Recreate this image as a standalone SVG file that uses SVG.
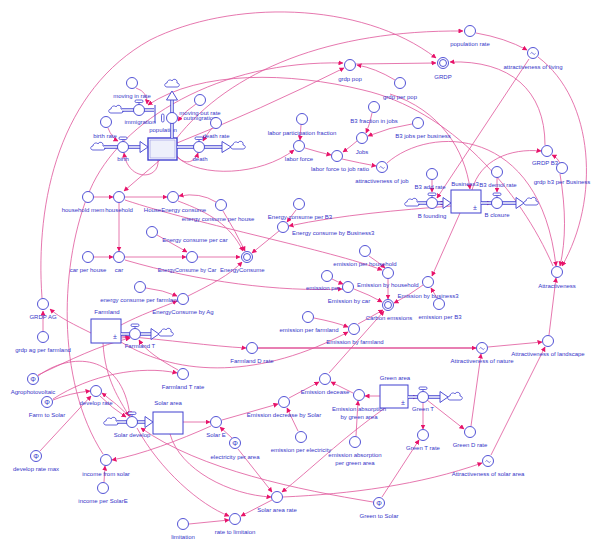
<svg xmlns="http://www.w3.org/2000/svg" width="600" height="551" viewBox="0 0 600 551">
<defs>
<marker id="ah" viewBox="0 0 10 10" refX="9" refY="5" markerWidth="5" markerHeight="5" markerUnits="userSpaceOnUse" orient="auto"><path d="M0,0 L10,5 L0,10 z" fill="#e8146a"/></marker>
<path id="cloudshape" d="M-5,3 C-8,3 -8,-1 -5,-1 C-5,-4 -1,-5 0,-3 C1,-6 6,-5 5,-1 C8,-1 8,3 5,3 Z"/>
</defs>
<style>
text{font-family:"Liberation Sans",Arial,sans-serif;font-size:6px;fill:#3535c8;text-anchor:middle}
.c{fill:#fff;stroke:#4040d0;stroke-width:0.9}
.k path,.k{fill:none;stroke:#e0559a;stroke-width:0.8}
.k path{marker-end:url(#ah)}
.p{fill:none;stroke:#4040d0;stroke-width:3.4}
.pi{fill:none;stroke:#fff;stroke-width:1.5}
.tri{fill:#fff;stroke:#4040d0;stroke-width:0.9}
.cl{fill:#fff;stroke:#4040d0;stroke-width:0.8}
.st{fill:#fff;stroke:#4040d0;stroke-width:1}
.h{fill:#fff;stroke:#4040d0;stroke-width:0.8}
.tl{fill:none;stroke:#4040d0;stroke-width:0.7}
.phi{font-size:7px}
</style>
<rect width="600" height="551" fill="#fff"/>

<g id="connectors" class="k">
<path d="M136,88 Q148,92 147,104"/>
<path d="M108,128 Q112,138 118,141"/>
<path d="M158,160 C160,180 128,182 124,153"/>
<path d="M177,156 C185,166 195,162 198,153"/>
<path d="M212,128 Q207,134 203,141"/>
<path d="M196,104 Q186,110 178,121"/>
<path d="M160,160 L124,191"/>
<path d="M177,143 Q260,110 344,68"/>
<path d="M176,139 C230,70 330,30 463,31"/>
<path d="M42,298 C35,200 60,90 150,40 C230,0 360,0 436,58"/>
<path d="M103,454 C55,380 60,260 90,190 C120,120 220,60 343,63"/>
<path d="M553,266 C520,190 450,110 363,90 C290,72 200,70 148,105"/>
<path d="M395,80 Q375,68 357,65"/>
<path d="M356,64 L436,63"/>
<path d="M476,33 Q505,38 527,50"/>
<path d="M545,145 C545,90 510,60 450,62"/>
<path d="M538,57 C595,100 600,200 562,266"/>
<path d="M529,59 L437,198"/>
<path d="M560,163 Q558,158 552,155"/>
<path d="M560,174 C566,210 566,240 560,266"/>
<path d="M472,190 C480,160 510,148 541,151"/>
<path d="M387,163 C430,125 540,125 556,266"/>
<path d="M342,159 Q360,163 376,166"/>
<path d="M357,141 Q350,147 343,152"/>
<path d="M305,148 Q318,152 331,155"/>
<path d="M301,125 L300,140"/>
<path d="M372,113 Q370,124 366,133"/>
<path d="M412,124 Q390,127 368,136"/>
<path d="M177,157 C200,178 260,176 294,150"/>
<path d="M432,180 L432,192"/>
<path d="M497,178 L497,192"/>
<path d="M481,203 L491,203"/>
<path d="M451,203 L438,203"/>
<path d="M460,213 L432,276"/>
<path d="M451,206 C400,210 340,215 289,226"/>
<path d="M390,94 C440,110 465,150 470,189"/>
<path d="M94,197 L113,197"/>
<path d="M125,197 L167,197"/>
<path d="M216,202 Q200,192 179,196"/>
<path d="M119,203 L119,251"/>
<path d="M94,257 L113,257"/>
<path d="M125,257 L186,257"/>
<path d="M157,235 L187,252"/>
<path d="M198,257 L240,257"/>
<path d="M178,201 C210,213 230,225 243,251"/>
<path d="M223,211 Q236,232 245,251"/>
<path d="M279,231 L252,253"/>
<path d="M296,210 L287,222"/>
<path d="M188,296 C210,285 230,275 242,262"/>
<path d="M146,288 Q163,290 177,296"/>
<path d="M125,200 C200,225 330,250 382,270"/>
<path d="M369,256 Q378,262 385,268"/>
<path d="M125,260 C200,282 280,292 342,289"/>
<path d="M332,279 Q338,282 343,284"/>
<path d="M354,289 Q370,295 382,302"/>
<path d="M388,279 L388,299"/>
<path d="M423,285 Q408,296 394,303"/>
<path d="M437,298 L431,288"/>
<path d="M314,318 Q335,322 348,327"/>
<path d="M358,324 L383,310"/>
<path d="M121,342 C180,378 262,378 348,332"/>
<path d="M329,373 L384,311"/>
<path d="M121,336 C170,340 210,346 246,348"/>
<path d="M258,348 L476,348" style="stroke-width:1.3"/>
<path d="M91,333 C75,325 60,318 50,309"/>
<path d="M43,331 L43,311"/>
<path d="M121,325 C140,315 160,308 177,301"/>
<path d="M178,370 C160,360 145,350 139,340"/>
<path d="M121,338 L130,337"/>
<path d="M38,375 C70,360 100,345 130,338"/>
<path d="M38,376 C70,352 122,352 130,416"/>
<path d="M53,400 Q70,393 90,391"/>
<path d="M53,399 C90,375 140,365 177,373"/>
<path d="M40,451 L91,396"/>
<path d="M100,396 Q112,408 126,417"/>
<path d="M130,417 Q117,404 102,393"/>
<path d="M103,343 C105,380 120,400 129,416"/>
<path d="M183,422 L210,422"/>
<path d="M211,426 C180,440 140,455 112,460"/>
<path d="M104,482 L105,466"/>
<path d="M232,438 L220,427"/>
<path d="M222,420 L278,404"/>
<path d="M298,431 L287,408"/>
<path d="M289,398 L319,382"/>
<path d="M353,393 L331,382"/>
<path d="M380,396 L365,396"/>
<path d="M356,436 L358,401"/>
<path d="M385,408 C340,440 310,470 282,492"/>
<path d="M238,449 L272,492"/>
<path d="M272,500 L241,516"/>
<path d="M189,524 L229,520"/>
<path d="M283,497 C350,494 420,485 482,463"/>
<path d="M373,502 C300,490 200,470 141,428"/>
<path d="M170,434 C180,470 230,495 271,497"/>
<path d="M137,428 C160,470 200,505 229,516"/>
<path d="M382,497 L419,440"/>
<path d="M423,403 L423,429"/>
<path d="M427,400 L464,429"/>
<path d="M471,426 L481,354"/>
<path d="M488,347 L542,342"/>
<path d="M491,455 L545,347"/>
<path d="M549,335 L556,278"/>
<path d="M408,397 L417,397"/>
</g>

<g id="population">
<rect class="st" x="148" y="138" width="29" height="22" style="stroke-width:1.4"/>
<rect x="150" y="140" width="25" height="18" fill="#eef0fb" stroke="#9090e0" stroke-width="0.6"/>
<text x="163" y="132">population</text>
</g>
<g id="f-birth">
<use href="#cloudshape" x="98" y="147" class="cl"/>
<path class="p" d="M104,147 H141"/><path class="pi" d="M104,147 H141"/>
<polygon class="tri" points="140,141.5 148,147 140,152.5"/>
<line x1="123" y1="139.5" x2="123" y2="141.5" stroke="#4040d0" stroke-width="0.8"/>
<rect class="h" x="119" y="137" width="8" height="2.5" rx="1.2"/>
<circle class="c" cx="123" cy="147" r="5.5"/>
<text x="123" y="161">birth</text>
</g>
<g id="f-immigration">
<use href="#cloudshape" x="116" y="110" class="cl"/>
<path class="p" d="M122,110 H154"/><path class="pi" d="M122,110 H154"/>
<line x1="155" y1="105" x2="155" y2="123" stroke="#4040d0" stroke-width="1"/>
<line x1="139" y1="102.5" x2="139" y2="104.5" stroke="#4040d0" stroke-width="0.8"/>
<rect class="h" x="135" y="100" width="8" height="2.5" rx="1.2"/>
<circle class="c" cx="139" cy="110" r="5.5"/>
<text x="140" y="124">immigration</text>
</g>
<g id="f-outmigration">
<use href="#cloudshape" x="172" y="84" class="cl"/>
<path class="p" d="M172,138 V100"/><path class="pi" d="M172,138 V100"/>
<polygon class="tri" points="166.5,100 172,91 177.5,100"/>
<rect class="h" x="161.5" y="114" width="2.5" height="8" rx="1.2"/>
<circle class="c" cx="172" cy="118" r="5.5"/>
<text x="200" y="115">moving out rate</text>
<text x="200" y="120">outmigration</text>
</g>
<g id="f-death">
<path class="p" d="M177,147 H223"/><path class="pi" d="M177,147 H223"/>
<polygon class="tri" points="222,141.5 231,147 222,152.5"/>
<use href="#cloudshape" x="238" y="146" class="cl"/>
<line x1="199" y1="139.5" x2="199" y2="141.5" stroke="#4040d0" stroke-width="0.8"/>
<rect class="h" x="195" y="137" width="8" height="2.5" rx="1.2"/>
<circle class="c" cx="199" cy="147" r="5.5"/>
<text x="200" y="161">death</text>
</g>
<g id="n-moving-in-rate"><circle class="c" cx="132" cy="83" r="5.5"/><text x="132" y="98">moving in rate</text></g>
<g id="n-birth-rate"><circle class="c" cx="106" cy="122" r="5.5"/><text x="105" y="138">birth rate</text></g>
<g id="n-moving-out-rate"><circle class="c" cx="200" cy="100" r="5.5"/></g>
<g id="n-death-rate"><circle class="c" cx="216" cy="123" r="5.5"/><text x="216" y="138">death rate</text></g>
<g id="n-grdp-pop"><circle class="c" cx="350" cy="65" r="5.5"/><text x="350" y="81">grdp pop</text></g>
<g id="n-grdp-per-pop"><circle class="c" cx="400" cy="83" r="5.5"/><text x="400" y="99">grdp per pop</text></g>
<g id="n-population-rate"><circle class="c" cx="470" cy="31" r="5.5"/><text x="470" y="46">population rate</text></g>
<g id="n-GRDP"><circle class="c" cx="443" cy="63" r="5.5"/><circle class="c" cx="443" cy="63" r="3.5"/><text x="443" y="79">GRDP</text></g>
<g id="n-attr-living"><circle class="c" cx="533" cy="53" r="5.5"/><path class="tl" d="M530.5,53.5 q1.2,-2 2.5,0 t2.5,0"/><text x="533" y="69">attractiveness of living</text></g>
<g id="n-labor-part"><circle class="c" cx="302" cy="119" r="5.5"/><text x="302" y="135">labor participation fraction</text></g>
<g id="n-labor-force"><circle class="c" cx="299" cy="146" r="5.5"/><text x="299" y="161">labor force</text></g>
<g id="n-lf-job-ratio"><circle class="c" cx="337" cy="156" r="5.5"/><text x="340" y="171">labor force to job ratio</text></g>
<g id="n-jobs"><circle class="c" cx="362" cy="138" r="5.5"/><text x="362" y="154">Jobs</text></g>
<g id="n-b3-fraction"><circle class="c" cx="374" cy="107" r="5.5"/><text x="374" y="123">B3 fraction in jobs</text></g>
<g id="n-b3-jobs-per-business"><circle class="c" cx="418" cy="123" r="5.5"/><text x="423" y="138">B3 jobs per business</text></g>
<g id="n-attr-job"><circle class="c" cx="382" cy="167" r="5.5"/><path class="tl" d="M379.5,167.5 q1.2,-2 2.5,0 t2.5,0"/><text x="382" y="183">attractiveness of job</text></g>
<g id="n-grdp-b3"><circle class="c" cx="547" cy="151" r="5.5"/><text x="545" y="165">GRDP B3</text></g>
<g id="n-grdp-b3-per-business"><circle class="c" cx="562" cy="168" r="5.5"/><text x="562" y="184">grdp b3 per Business</text></g>
<g id="n-b3-add-rate"><circle class="c" cx="432" cy="174" r="5.5"/><text x="430" y="189">B3 add rate</text></g>
<g id="n-b3-demol-rate"><circle class="c" cx="497" cy="172" r="5.5"/><text x="498" y="187">B3 demol rate</text></g>
<g id="business3">
<rect class="st" x="451" y="190" width="30" height="23"/>
<text x="475" y="210" style="font-size:7px">±</text>
<text x="465" y="186">Business3</text>
</g>
<g id="f-b-founding">
<use href="#cloudshape" x="412" y="203" class="cl"/>
<path class="p" d="M418,203 H444"/><path class="pi" d="M418,203 H444"/>
<polygon class="tri" points="443,197.5 451,203 443,208.5"/>
<line x1="432" y1="195.5" x2="432" y2="197.5" stroke="#4040d0" stroke-width="0.8"/>
<rect class="h" x="428" y="193" width="8" height="2.5" rx="1.2"/>
<circle class="c" cx="432" cy="203" r="5.5"/>
<text x="432" y="218">B founding</text>
</g>
<g id="f-b-closure">
<path class="p" d="M481,203 H517"/><path class="pi" d="M481,203 H517"/>
<polygon class="tri" points="516,197.5 524,203 516,208.5"/>
<use href="#cloudshape" x="531" y="202" class="cl"/>
<line x1="497" y1="195.5" x2="497" y2="197.5" stroke="#4040d0" stroke-width="0.8"/>
<rect class="h" x="493" y="193" width="8" height="2.5" rx="1.2"/>
<circle class="c" cx="497" cy="203" r="5.5"/>
<text x="497" y="217">B closure</text>
</g>
<g id="n-attractiveness"><circle class="c" cx="557" cy="272" r="5.5"/><text x="557" y="288">Attractiveness</text></g>
<g id="n-attr-landscape"><circle class="c" cx="548" cy="341" r="5.5"/><text x="548" y="356">Attractiveness of landscape</text></g>
<g id="n-attr-nature"><circle class="c" cx="482" cy="348" r="5.5"/><path class="tl" d="M479.5,348.5 q1.2,-2 2.5,0 t2.5,0"/><text x="482" y="363">Attractiveness of nature</text></g>
<g id="green-area">
<rect class="st" x="380" y="385" width="28" height="23"/>
<text x="403" y="405" style="font-size:7px">±</text>
<text x="395" y="380">Green area</text>
</g>
<g id="f-green-t">
<path class="p" d="M408,397 H441"/><path class="pi" d="M408,397 H441"/>
<polygon class="tri" points="440,391.5 448,397 440,402.5"/>
<use href="#cloudshape" x="455" y="397" class="cl"/>
<line x1="423" y1="389.5" x2="423" y2="391.5" stroke="#4040d0" stroke-width="0.8"/>
<rect class="h" x="419" y="387" width="8" height="2.5" rx="1.2"/>
<circle class="c" cx="423" cy="397" r="5.5"/>
<text x="423" y="411">Green T</text>
</g>
<g id="n-green-t-rate"><circle class="c" cx="423" cy="435" r="5.5"/><text x="423" y="450">Green T rate</text></g>
<g id="n-green-d-rate"><circle class="c" cx="470" cy="432" r="5.5"/><text x="470" y="447">Green D rate</text></g>
<g id="n-attr-solar"><circle class="c" cx="488" cy="461" r="5.5"/><path class="tl" d="M485.5,461.5 q1.2,-2 2.5,0 t2.5,0"/><text x="488" y="476">Attractiveness of solar area</text></g>
<g id="n-emission-decease"><circle class="c" cx="325" cy="379" r="5.5"/><text x="325" y="394">Emission decease</text></g>
<g id="n-emission-absorption"><circle class="c" cx="359" cy="395" r="5.5"/><text x="359" y="411">Emission absorption</text><text x="359" y="419">by green area</text></g>
<g id="n-emission-absorption-per"><circle class="c" cx="355" cy="442" r="5.5"/><text x="355" y="457">emission absorption</text><text x="355" y="465">per green area</text></g>
<g id="n-emission-decrease-solar"><circle class="c" cx="284" cy="402" r="5.5"/><text x="284" y="417">Emission decrease by Solar</text></g>
<g id="n-emission-per-electricity"><circle class="c" cx="301" cy="437" r="5.5"/><text x="301" y="452">emission per electricity</text></g>
<g id="n-solar-e"><circle class="c" cx="216" cy="422" r="5.5"/><text x="216" y="437">Solar E</text></g>
<g id="n-electricity-per-area"><circle class="c" cx="235" cy="443" r="5.5"/><text x="235" y="445.5" class="phi">Φ</text><text x="235" y="459">electricity per area</text></g>
<g id="n-solar-area-rate"><circle class="c" cx="277" cy="497" r="5.5"/><text x="277" y="512">Solar area rate</text></g>
<g id="n-rate-to-limitaion"><circle class="c" cx="235" cy="519" r="5.5"/><text x="235" y="534">rate to limitaion</text></g>
<g id="n-green-to-solar"><circle class="c" cx="379" cy="503" r="5.5"/><text x="379" y="505.5" class="phi">Φ</text><text x="379" y="518">Green to Solar</text></g>
<g id="n-limitation"><circle class="c" cx="183" cy="524" r="5.5"/><text x="183" y="539">limitation</text></g>
<g id="solar-area">
<rect class="st" x="153" y="412" width="30" height="22"/>
<text x="168" y="405">Solar area</text>
</g>
<g id="f-solar-develop">
<use href="#cloudshape" x="111" y="422" class="cl"/>
<path class="p" d="M117,422 H146"/><path class="pi" d="M117,422 H146"/>
<polygon class="tri" points="145,416.5 153,422 145,427.5"/>
<line x1="132" y1="414.5" x2="132" y2="416.5" stroke="#4040d0" stroke-width="0.8"/>
<rect class="h" x="128" y="412" width="8" height="2.5" rx="1.2"/>
<circle class="c" cx="132" cy="422" r="5.5"/>
<text x="132" y="437">Solar develop</text>
</g>
<g id="n-develop-rate"><circle class="c" cx="96" cy="391" r="5.5"/><text x="96" y="405">develop rate</text></g>
<g id="n-agrophotovoltaic"><circle class="c" cx="33" cy="379" r="5.5"/><text x="33" y="381.5" class="phi">Φ</text><text x="33" y="394">Agrophotovoltaic</text></g>
<g id="n-farm-to-solar"><circle class="c" cx="47" cy="402" r="5.5"/><text x="47" y="404.5" class="phi">Φ</text><text x="47" y="417">Farm to Solar</text></g>
<g id="n-develop-rate-max"><circle class="c" cx="36" cy="456" r="5.5"/><text x="36" y="458.5" class="phi">Φ</text><text x="36" y="471">develop rate max</text></g>
<g id="n-income-from-solar"><circle class="c" cx="106" cy="460" r="5.5"/><text x="106" y="476">income from solar</text></g>
<g id="n-income-per-solare"><circle class="c" cx="103" cy="488" r="5.5"/><text x="103" y="503">income per SolarE</text></g>
<g id="n-farmland-t-rate"><circle class="c" cx="183" cy="374" r="5.5"/><text x="183" y="389">Farmland T rate</text></g>
<g id="n-farmland-d-rate"><circle class="c" cx="252" cy="348" r="5.5"/><text x="252" y="363">Farmland D rate</text></g>
<g id="n-grdp-ag"><circle class="c" cx="43" cy="304" r="5.5"/><text x="43" y="319">GRDP AG</text></g>
<g id="n-grdp-ag-per-farmland"><circle class="c" cx="43" cy="337" r="5.5"/><text x="43" y="352">grdp ag per farmland</text></g>
<g id="farmland">
<rect class="st" x="91" y="319" width="30" height="24"/>
<text x="115" y="339" style="font-size:7px">±</text>
<text x="107" y="314">Farmland</text>
</g>
<g id="f-farmland-t">
<path class="p" d="M121,334 H152"/><path class="pi" d="M121,334 H152"/>
<polygon class="tri" points="151,328.5 159,334 151,339.5"/>
<use href="#cloudshape" x="166" y="333" class="cl"/>
<line x1="135" y1="326.5" x2="135" y2="328.5" stroke="#4040d0" stroke-width="0.8"/>
<rect class="h" x="131" y="324" width="8" height="2.5" rx="1.2"/>
<circle class="c" cx="135" cy="334" r="5.5"/>
<text x="140" y="348">Farmland T</text>
</g>
<g id="n-energy-per-farmland"><circle class="c" cx="140" cy="287" r="5.5"/><text x="140" y="302">energy consume per farmland</text></g>
<g id="n-energy-by-ag"><circle class="c" cx="183" cy="299" r="5.5"/><text x="183" y="314">EnergyConsume by Ag</text></g>
<g id="n-household-members"><circle class="c" cx="88" cy="197" r="5.5"/><text x="83" y="212">household mem</text></g>
<g id="n-household"><circle class="c" cx="119" cy="197" r="5.5"/><text x="119" y="212">household</text></g>
<g id="n-house-energy"><circle class="c" cx="173" cy="197" r="5.5"/><text x="175" y="212">HouseEnergy consume</text></g>
<g id="n-energy-per-house"><circle class="c" cx="221" cy="205" r="5.5"/><text x="218" y="221">energy consume per house</text></g>
<g id="n-energy-per-car"><circle class="c" cx="152" cy="232" r="5.5"/><text x="195" y="242">Energy consume per car</text></g>
<g id="n-car-per-house"><circle class="c" cx="88" cy="257" r="5.5"/><text x="88" y="272">car per house</text></g>
<g id="n-car"><circle class="c" cx="119" cy="257" r="5.5"/><text x="119" y="272">car</text></g>
<g id="n-energy-by-car"><circle class="c" cx="192" cy="257" r="5.5"/><text x="187" y="272" style="font-size:5.5px">EnergyConsume by Car</text></g>
<g id="n-energy-consume"><circle class="c" cx="247" cy="257" r="5.5"/><circle class="c" cx="247" cy="257" r="3.5"/><text x="220" y="272" style="text-anchor:start">EnergyConsume</text></g>
<g id="n-energy-per-b3"><circle class="c" cx="299" cy="204" r="5.5"/><text x="300" y="219">Energy consume per B3</text></g>
<g id="n-energy-by-b3"><circle class="c" cx="283" cy="227" r="5.5"/><text x="292" y="235" style="text-anchor:start">Energy consume by Business3</text></g>
<g id="n-emission-per-household"><circle class="c" cx="365" cy="251" r="5.5"/><text x="365" y="266">emission per household</text></g>
<g id="n-emission-by-household"><circle class="c" cx="388" cy="273" r="5.5"/><text x="357" y="287" style="text-anchor:start">Emission by household</text></g>
<g id="n-emission-per-car"><circle class="c" cx="327" cy="276" r="5.5"/><text x="328" y="290">emission per car</text></g>
<g id="n-emission-by-car"><circle class="c" cx="348" cy="287" r="5.5"/><text x="349" y="303">Emission by car</text></g>
<g id="n-carbon-emissions"><circle class="c" cx="388" cy="305" r="5.5"/><circle class="c" cx="388" cy="305" r="3.5"/><text x="389" y="320">Carbon emssions</text></g>
<g id="n-emission-by-business3"><circle class="c" cx="428" cy="282" r="5.5"/><text x="428" y="298">Emission by business3</text></g>
<g id="n-emission-per-b3"><circle class="c" cx="439" cy="304" r="5.5"/><text x="440" y="319">emission per B3</text></g>
<g id="n-emission-per-farmland"><circle class="c" cx="308" cy="317" r="5.5"/><text x="309" y="332">emission per farmland</text></g>
<g id="n-emission-by-farmland"><circle class="c" cx="354" cy="329" r="5.5"/><text x="355" y="344">Emission by farmland</text></g>
</svg>
